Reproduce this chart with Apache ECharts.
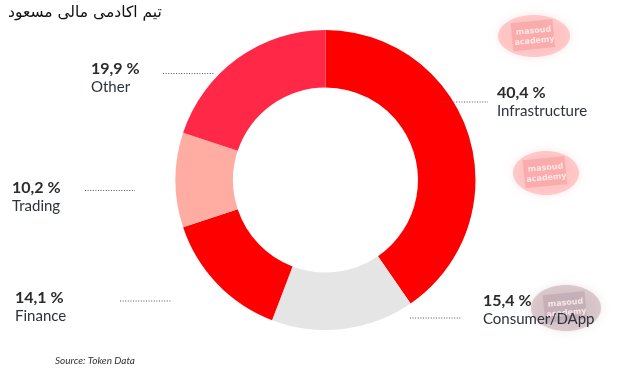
<!DOCTYPE html>
<html>
<head>
<meta charset="utf-8">
<script src="https://cdn.jsdelivr.net/npm/echarts@6/dist/echarts.min.js"></script>
<style>
html,body{margin:0;padding:0;background:#fff;}
#c{width:622px;height:375px;}
</style>
</head>
<body>
<div id="c"></div>
<script>
const categories = ['Infrastructure', 'Consumer/DApp', 'Finance', 'Trading', 'Other'];
const shares = [40.4, 15.4, 14.1, 10.2, 19.9];
const sliceColors = ['#ff0000', '#e5e5e5', '#ff0000', '#ffaca3', '#ff2846'];
const titleText = 'تیم اکادمی مالی مسعود';
const sourceText = 'Source: Token Data';

// label block positions (top-left) and dotted leader lines, per category
const labelPos = [[497, 83], [483, 291], [15, 288], [12, 178], [91, 59]];
const leaders = [[438, 102, 488], [410, 318, 462], [120, 301, 171], [85, 190.5, 135], [163, 73.5, 215]];

const chart = echarts.init(document.getElementById('c'), null, {renderer: 'canvas'});

function fmt(v) { return v.toFixed(1).replace('.', ',') + ' %'; }

const graphics = [];
leaders.forEach(function (l) {
  graphics.push({
    type: 'line', shape: {x1: l[0], y1: l[1], x2: l[2], y2: l[1]},
    style: {stroke: '#555', lineWidth: 1, lineDash: [1, 1.6]}, z: 10
  });
});
graphics.push({
  type: 'text', left: 8, top: 5,
  style: {text: titleText, font: '15.5px "DejaVu Sans", sans-serif', fill: '#111'}
});
graphics.push({
  type: 'text', left: 55, top: 356,
  style: {text: sourceText, font: 'italic 10px Lato, sans-serif', fill: '#333'}
});
// faint watermarks
const marks = [
  [534, 36, 36, 21, 'rgba(255,160,160,0.5)', 'rgba(230,90,90,0.22)'],
  [546, 173, 33, 22, 'rgba(255,160,160,0.5)', 'rgba(230,90,90,0.22)'],
  [566, 308, 35, 23, 'rgba(190,160,165,0.5)', 'rgba(140,110,130,0.22)']
];
marks.forEach(function (m) {
  graphics.push({
    type: 'ellipse', shape: {cx: m[0], cy: m[1], rx: m[2], ry: m[3]},
    style: {fill: m[4], shadowBlur: 8, shadowColor: m[4]},
    z: 0, z2: 0
  });
  graphics.push({
    type: 'rect', shape: {x: m[0] - 22, y: m[1] - 15, width: 42, height: 28},
    rotation: 0.1, originX: m[0], originY: m[1],
    style: {fill: m[5]}, z: 0, z2: 1
  });
  graphics.push({
    type: 'text', x: m[0], y: m[1], rotation: 0.1, originX: 0, originY: 0,
    style: {text: 'masoud\nacademy', font: 'bold 8px "DejaVu Sans", sans-serif', fill: 'rgba(255,240,240,0.85)', align: 'center', verticalAlign: 'middle', lineHeight: 10},
    z: 0, z2: 2
  });
});

chart.setOption({
  animation: false,
  backgroundColor: '#fff',
  graphic: graphics,
  series: [{
    type: 'pie',
    z: 2,
    center: [325.5, 180],
    radius: [92.5, 150],
    startAngle: 90,
    clockwise: true,
    silent: true,
    data: categories.map(function (c, i) {
      return {name: c, value: shares[i], itemStyle: {color: sliceColors[i]}};
    }),
    label: {
      show: true,
      position: 'outside',
      formatter: function (p) { return '{v|' + fmt(p.value) + '}\n{n|' + p.name + '}'; },
      rich: {
        v: {fontFamily: 'Lato', fontSize: 16, fontWeight: 'bold', color: '#2b2b2b', lineHeight: 19},
        n: {fontFamily: 'Lato', fontSize: 15, color: '#2b323c', lineHeight: 19}
      }
    },
    labelLine: {show: false},
    labelLayout: function (p) {
      const pos = labelPos[p.dataIndex];
      return {x: pos[0], y: pos[1], align: 'left', verticalAlign: 'top', moveOverlap: false, hideOverlap: false};
    }
  }]
});
</script>
</body>
</html>
